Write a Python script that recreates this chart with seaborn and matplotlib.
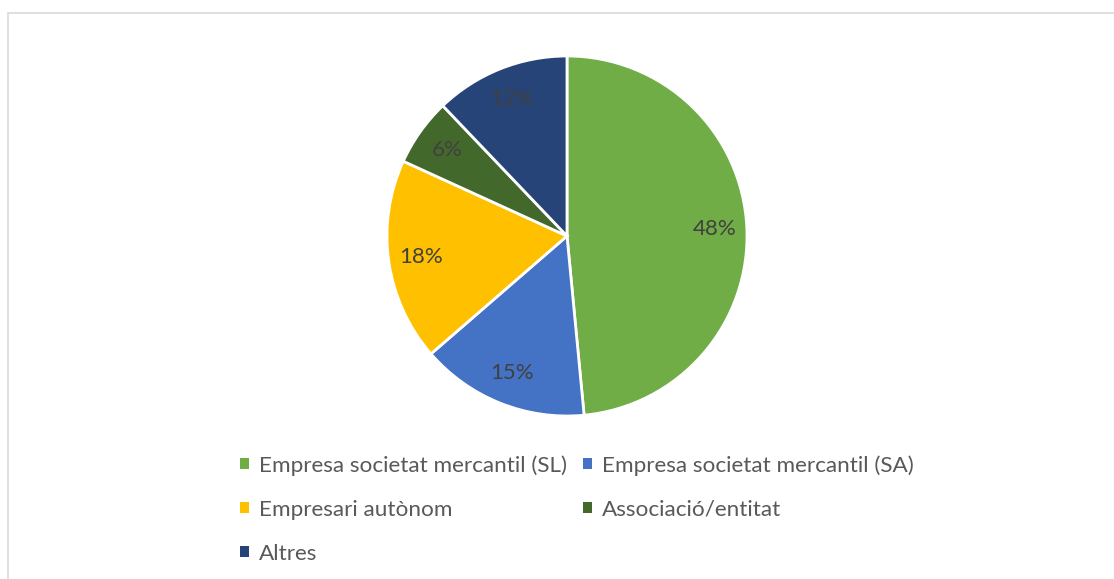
import matplotlib
matplotlib.use("Agg")
import matplotlib.pyplot as plt
import matplotlib.patches as mpatches
import seaborn as sns

categories = [
    "Empresa societat mercantil (SL)",
    "Empresa societat mercantil (SA)",
    "Empresari autònom",
    "Associació/entitat",
    "Altres",
]
shares = [48, 15, 18, 6, 12]
colors = ["#70AD47", "#4472C4", "#FFC000", "#43682B", "#264478"]

sns.set_theme(style="white")
plt.rcParams["font.family"] = ["Lato", "DejaVu Sans"]

W, H = 1114, 579
fig = plt.figure(figsize=(W / 100, H / 100), dpi=100)
fig.patch.set_facecolor("white")

# light frame of the chart area (runs off the right and bottom edges)
fig.patches.append(
    mpatches.Rectangle(
        (7.5 / W, -0.05), 1.2, 1 - 12.5 / H + 0.05,
        transform=fig.transFigure, fill=False, edgecolor="#D9D9D9", linewidth=1.2,
    )
)

cx, cy, r = 567, 236, 180
ax = fig.add_axes([(cx - r) / W, (H - cy - r) / H, 2 * r / W, 2 * r / H])
wedges, texts = ax.pie(
    shares,
    colors=colors,
    startangle=90,
    counterclock=False,
    labels=[f"{v}%" for v in shares],
    labeldistance=0.82,
    wedgeprops=dict(edgecolor="white", linewidth=2),
    textprops=dict(color="#404040", fontsize=16, ha="center", va="center"),
)
for t in texts:
    t.set_ha("center")
ax.set_xlim(-1, 1)
ax.set_ylim(-1, 1)
ax.set_aspect("equal")
ax.axis("off")

# legend reads row by row, matplotlib fills column by column
order = [0, 2, 4, 1, 3]
handles = [mpatches.Patch(facecolor=colors[i], edgecolor="none") for i in order]
fig.legend(
    handles, [categories[i] for i in order],
    loc="upper left", bbox_to_anchor=(240 / W, 1 - 455 / H),
    ncol=2, frameon=False, fontsize=16.2,
    handlelength=0.4, handleheight=0.4, handletextpad=0.45,
    labelspacing=1.07, columnspacing=0.7, borderpad=0, borderaxespad=0,
    labelcolor="#595959",
)

fig.savefig("out.png", dpi=100, facecolor="white")
